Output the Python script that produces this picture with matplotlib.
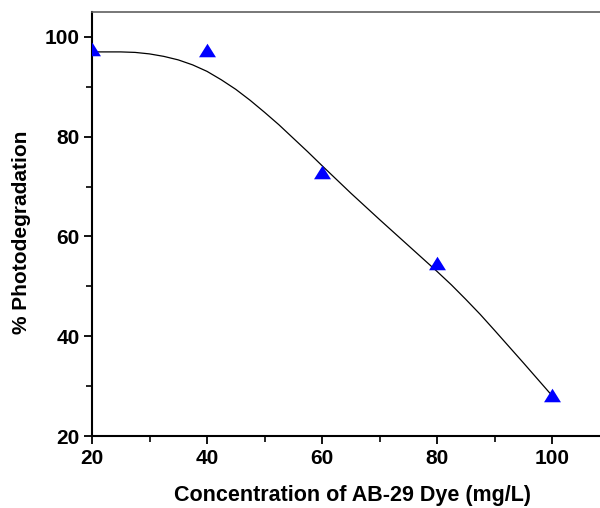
import matplotlib.pyplot as plt
from matplotlib.ticker import MultipleLocator

# Messpunkte
konz = [20, 40, 60, 80, 100]
abbau = [97.5, 97.4, 73.0, 54.6, 28.2]

# Angepasste Kurve
kurve_x = [20, 25, 27.5, 30, 32.5, 35, 37.5, 40, 42.5, 45, 47.5, 50, 52.5,
           55, 57.5, 60, 65, 70, 75, 80, 82.5, 85, 87.5, 90, 95, 100]
kurve_y = [97.0, 97.0, 96.9, 96.6, 96.1, 95.4, 94.4, 93.1, 91.4, 89.5, 87.3,
           84.9, 82.4, 79.7, 77.0, 74.2, 68.7, 63.4, 58.2, 53.0, 50.3, 47.4,
           44.4, 41.2, 34.7, 28.1]

plt.rcParams['font.family'] = ['Liberation Sans', 'DejaVu Sans']

fig = plt.figure(figsize=(6.0, 5.08), dpi=100)
ax = fig.add_axes([92 / 600, 72 / 508, 517.5 / 600, 424 / 508])

ax.plot(kurve_x, kurve_y, color='black', linewidth=0.9, zorder=2)
dreieck = [(-1, -0.8), (1, -0.8), (0, 0.8)]
ax.plot(konz, abbau, linestyle='none', marker=dreieck, markersize=12.2,
        color='#0000ff', markeredgewidth=0, zorder=3)

ax.set_xlim(20, 110)
ax.set_ylim(20, 105)
ax.xaxis.set_major_locator(MultipleLocator(20))
ax.xaxis.set_minor_locator(MultipleLocator(10))
ax.yaxis.set_major_locator(MultipleLocator(20))
ax.yaxis.set_minor_locator(MultipleLocator(10))
ax.set_xticks([20, 40, 60, 80, 100])

ax.tick_params(which='major', direction='out', length=6, width=1.3, pad=3,
               labelsize=15)
ax.tick_params(which='minor', direction='out', length=4, width=1.2)
for lbl in ax.get_xticklabels() + ax.get_yticklabels():
    lbl.set_fontweight('bold')

ax.spines['left'].set_linewidth(1.5)
ax.spines['bottom'].set_linewidth(1.5)
ax.spines['top'].set_color('#606060')
ax.spines['top'].set_linewidth(1.2)
ax.spines['right'].set_visible(False)

ax.set_xlabel("Concentration of AB-29 Dye (mg/L)", fontsize=15.5,
              fontweight='bold')
ax.set_ylabel("% Photodegradation", fontsize=15, fontweight='bold')
ax.xaxis.set_label_coords((352 - 92) / 517.5, -0.115)
ax.yaxis.set_label_coords(-(92 - 31) / 517.5, (508 - 72 - 232) / 424)

fig.savefig('out.png', dpi=100)
